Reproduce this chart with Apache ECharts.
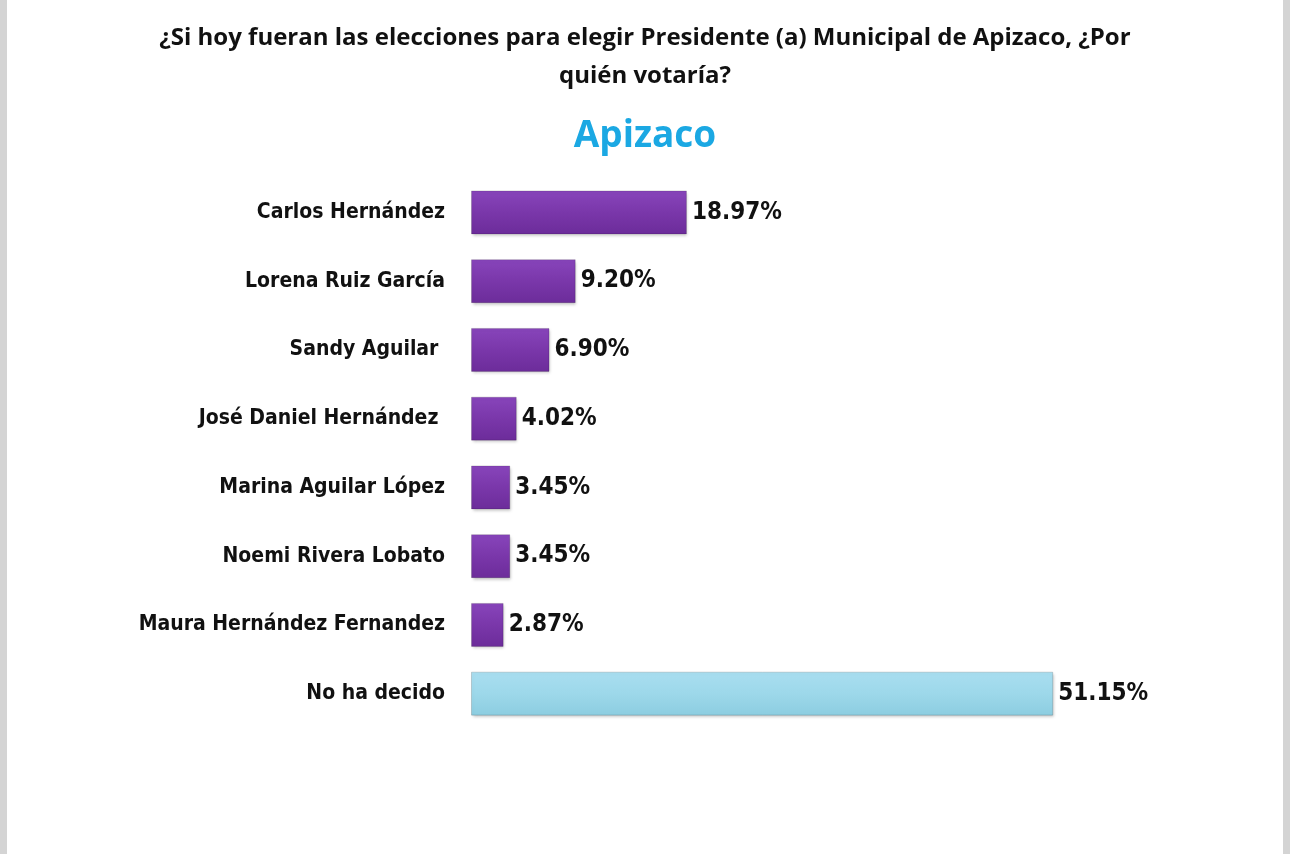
<!DOCTYPE html>
<html>
<head>
<meta charset="utf-8">
<script src="https://cdn.jsdelivr.net/npm/echarts@6/dist/echarts.min.js"></script>
<style>
html,body{margin:0;padding:0;width:1290px;height:854px;background:#d4d4d4;overflow:hidden;}
#c{position:absolute;left:7px;top:0;width:1276px;height:854px;background:#fff;}
</style>
</head>
<body>
<div id="c"></div>
<script>
const categories = ["Carlos Hernández","Lorena Ruiz García","Sandy Aguilar ","José Daniel Hernández ","Marina Aguilar López","Noemi Rivera Lobato","Maura Hernández Fernandez","No ha decido"];
const values = [18.97, 9.20, 6.90, 4.02, 3.45, 3.45, 2.87, 51.15];
const valueLabels = ["18.97%","9.20%","6.90%","4.02%","3.45%","3.45%","2.87%","51.15%"];
const titleText = "¿Si hoy fueran las elecciones para elegir Presidente (a) Municipal de Apizaco, ¿Por\nquién votaría?";
const subtitleText = "Apizaco";

const purple = new echarts.graphic.LinearGradient(0,0,0,1,[{offset:0,color:'#8845bb'},{offset:0.5,color:'#7a37aa'},{offset:1,color:'#6c2c9a'}]);
const cyan = new echarts.graphic.LinearGradient(0,0,0,1,[{offset:0,color:'#a9def0'},{offset:0.5,color:'#9dd8ea'},{offset:1,color:'#8ccde0'}]);
const narrow = "'DejaVu Sans Condensed', 'DejaVu Sans', sans-serif";

const chart = echarts.init(document.getElementById('c'));
chart.setOption({
  animation:false,
  title:[
    {text:titleText,left:'center',top:14,textStyle:{fontFamily:'Open Sans',fontWeight:'bold',fontSize:24,color:'#111',lineHeight:38}},
    {text:subtitleText,left:'center',top:113,textStyle:{fontFamily:'Open Sans',fontWeight:'bold',fontSize:37,color:'#1ba8e3'}}
  ],
  grid:{left:464,top:178,width:683,height:550},
  xAxis:{type:'value',min:0,max:60,show:false},
  yAxis:{type:'category',inverse:true,data:categories,
    axisLine:{show:false},axisTick:{show:false},
    axisLabel:{margin:26,color:'#111',fontFamily:narrow,fontWeight:'bold',fontSize:21}},
  series:[{type:'bar',barCategoryGap:'36%',
    data:values.map((v,i)=>({value:v,itemStyle:{color:i===values.length-1?cyan:purple}})),
    itemStyle:{borderColor:'rgba(0,0,0,0.15)',borderWidth:1,shadowColor:'rgba(0,0,0,0.25)',shadowBlur:3,shadowOffsetX:1,shadowOffsetY:2},
    label:{show:true,position:'right',distance:5,formatter:p=>valueLabels[p.dataIndex],
      color:'#111',fontFamily:narrow,fontWeight:'bold',fontSize:24}
  }]
});
</script>
</body>
</html>
